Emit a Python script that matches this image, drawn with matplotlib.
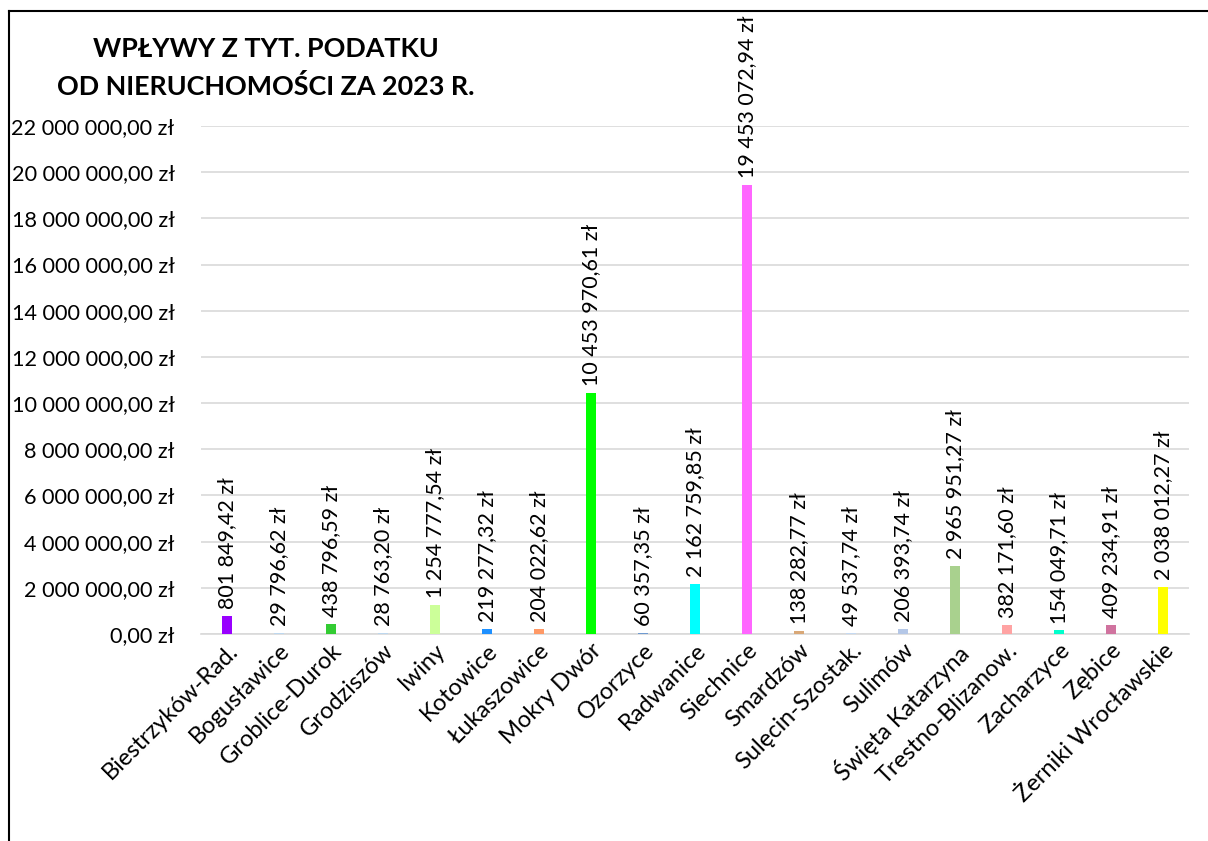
import numpy as np
import matplotlib.pyplot as plt
from matplotlib.lines import Line2D
from matplotlib.ticker import FuncFormatter

plt.rcParams['font.family'] = ['Lato', 'DejaVu Sans']

places = ['Biestrzyków-Rad.', 'Bogusławice', 'Groblice-Durok', 'Grodziszów', 'Iwiny',
          'Kotowice', 'Łukaszowice', 'Mokry Dwór', 'Ozorzyce', 'Radwanice', 'Siechnice',
          'Smardzów', 'Sulęcin-Szostak.', 'Sulimów', 'Święta Katarzyna', 'Trestno-Blizanow.',
          'Zacharzyce', 'Zębice', 'Żerniki Wrocławskie']
income = [801849.42, 29796.62, 438796.59, 28763.20, 1254777.54, 219277.32, 204022.62,
          10453970.61, 60357.35, 2162759.85, 19453072.94, 138282.77, 49537.74, 206393.74,
          2965951.27, 382171.60, 154049.71, 409234.91, 2038012.27]
colors = ['#9900FF', '#BDD7EE', '#33CC33', '#BDD7EE', '#CCFF99', '#1E90FF', '#FF9966',
          '#00FF00', '#6F9AD0', '#00FFFF', '#FF66FF', '#D9A877', '#C5D9F1', '#B4C7E7',
          '#A9D18E', '#FFA3A3', '#00FFCC', '#D0739F', '#FFFF00']


def zl(v):
    s = f'{v:,.2f}'.replace(',', ' ').replace('.', ',')
    return s + ' zł'


fig = plt.figure(figsize=(12.08, 8.41), dpi=100)
ax = fig.add_axes([0.1664, 0.2461, 0.8179, 0.6041])

x = np.arange(len(places))
ax.bar(x, income, width=0.21, color=colors, zorder=3)

for xi, v in zip(x, income):
    ax.annotate(zl(v), (xi, v), xytext=(0, 5), textcoords='offset points',
                rotation=90, ha='center', va='bottom', fontsize=15.5, annotation_clip=False)

ax.set_xlim(-0.5, len(places) - 0.5)
ax.set_ylim(0, 22000000)
ax.set_yticks(np.arange(0, 22000001, 2000000))
ax.yaxis.set_major_formatter(FuncFormatter(lambda v, p: zl(v)))
ax.grid(axis='y', color='#D9D9D9', linewidth=1.2, zorder=0)
ax.tick_params(axis='both', length=0)
ax.tick_params(axis='y', pad=19, labelsize=15.6)
ax.tick_params(axis='x', pad=4)
for s in ['top', 'right', 'left']:
    ax.spines[s].set_visible(False)
ax.spines['bottom'].set_color('#D9D9D9')
ax.spines['bottom'].set_linewidth(1.2)

ax.set_xticks(x)
ax.set_xticklabels(places, rotation=45, ha='right', rotation_mode='anchor', fontsize=17)

fig.text(0.22, 0.919, 'WPŁYWY Z TYT. PODATKU\nOD NIERUCHOMOŚCI ZA 2023 R.', ha='center',
         va='center', fontsize=19.4, fontweight='bold', linespacing=1.62)

# frame on left and top
fig.add_artist(Line2D([0.0075, 0.0075], [0, 0.987], color='black', linewidth=1.5))
fig.add_artist(Line2D([0.0075, 1.0], [0.987, 0.987], color='black', linewidth=1.5))

fig.savefig('out.png', dpi=100)
